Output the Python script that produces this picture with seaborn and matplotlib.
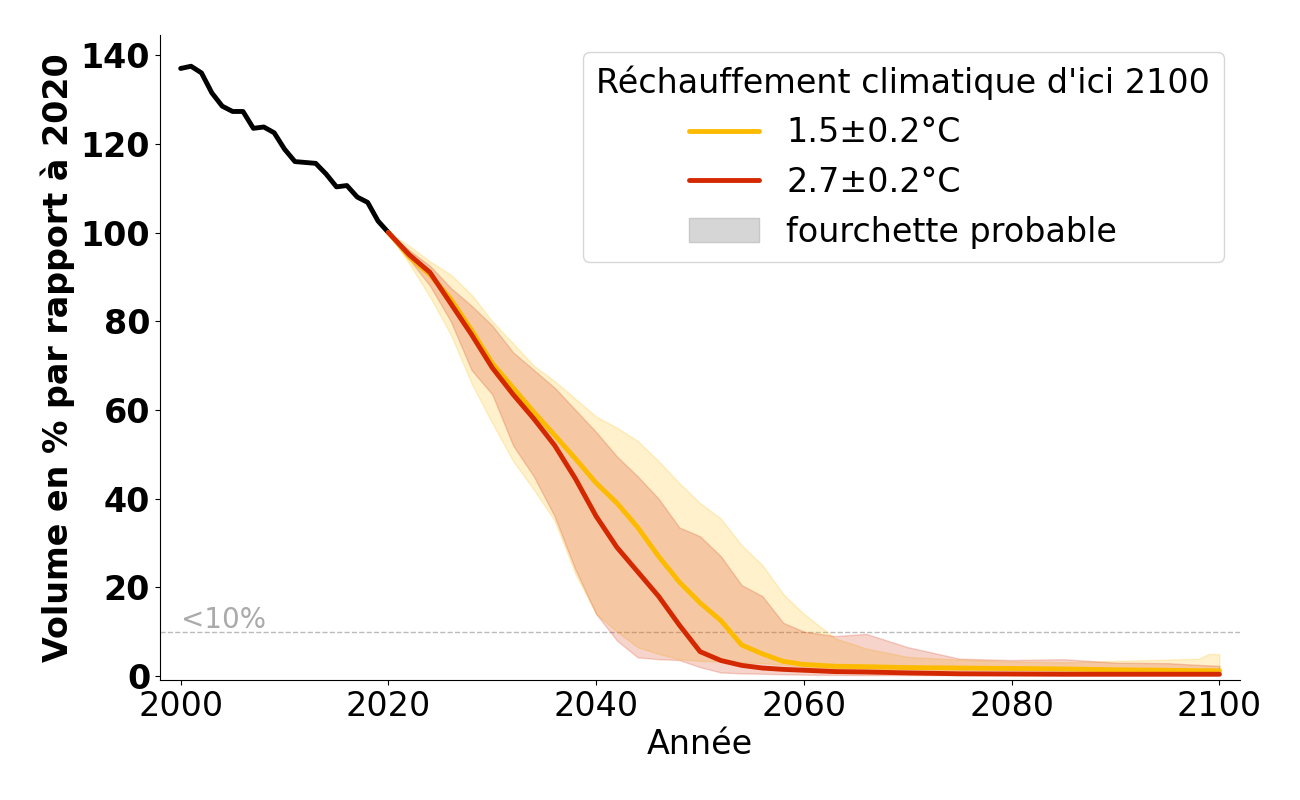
import matplotlib
matplotlib.use("Agg")
import matplotlib.pyplot as plt
import matplotlib.patches as mpatches
from matplotlib.lines import Line2D
import numpy as np
import pandas as pd
import seaborn as sns

# historique
annees_hist = list(range(2000, 2021))
volume_hist = [137, 137.5, 136, 131.5, 128.5, 127.3, 127.3, 123.5, 123.8, 122.5,
               118.8, 116, 115.8, 115.6, 113.2, 110.3, 110.6, 108, 106.8, 102.6, 100]

# projections
annees = [2020, 2022, 2024, 2026, 2028, 2030, 2032, 2034, 2036, 2038, 2040,
          2042, 2044, 2046, 2048, 2050, 2052, 2054, 2056, 2058, 2060,
          2063, 2066, 2070, 2075, 2080, 2085, 2090, 2095, 2098, 2099, 2100]

med_15 = [100, 94.5, 90.5, 85, 78, 70.5, 65, 59.5, 54.3, 49, 43.5,
          39, 33.5, 27, 21.2, 16.5, 12.5, 7, 5, 3.3, 2.6,
          2.2, 2.1, 1.9, 1.8, 1.7, 1.6, 1.4, 1.3, 1.2, 1.2, 1.2]
haut_15 = [100, 97, 93.5, 90.5, 86, 80, 75, 70, 66.5, 62.5, 58.5,
           56, 53, 48.5, 43.5, 39, 35.5, 29.5, 25, 18.5, 14,
           8.5, 6.2, 4.3, 3.7, 3.3, 3.1, 3.4, 3.7, 3.9, 5.0, 4.9]
bas_15 = [100, 93, 85.5, 77, 66, 57, 48.5, 42, 35, 23, 14,
          10, 6.5, 5, 3.8, 3.4, 3.3, 3.1, 2.9, 2.5, 2.0,
          1.7, 1.6, 1.5, 1.4, 1.3, 1.2, 1.1, 1.0, 1.0, 1.0, 1.0]

med_27 = [100, 95, 91, 84, 77, 69.5, 63.5, 58, 52, 44.5, 36,
          29, 23.5, 18, 11.5, 5.5, 3.5, 2.4, 1.8, 1.5, 1.3,
          1.0, 0.9, 0.7, 0.5, 0.45, 0.4, 0.4, 0.4, 0.4, 0.4, 0.4]
haut_27 = [100, 96, 92.5, 87.5, 83.5, 79, 73, 69, 65, 60, 55,
           49.5, 45, 40, 33.5, 31.5, 27, 20.5, 18, 12, 10,
           9, 9.5, 6.5, 3.9, 3.6, 3.8, 3.0, 2.9, 2.5, 2.4, 2.3]
bas_27 = [100, 94, 88, 80, 69, 63.5, 52, 45, 36, 24, 14,
          8, 4.2, 3.8, 3.6, 2, 0.8, 0.6, 0.5, 0.4, 0.3,
          0.25, 0.2, 0.2, 0.2, 0.2, 0.2, 0.2, 0.2, 0.2, 0.2, 0.2]

jaune = '#FDBB00'
rouge = '#D42800'

sns.set_style("ticks")
plt.rcParams['font.family'] = ['DejaVu Sans']
plt.rcParams['text.color'] = 'black'
plt.rcParams['axes.labelcolor'] = 'black'
plt.rcParams['xtick.color'] = 'black'
plt.rcParams['ytick.color'] = 'black'
plt.rcParams['axes.edgecolor'] = 'black'

df_hist = pd.DataFrame({'annee': annees_hist, 'volume': volume_hist})
df_15 = pd.DataFrame({'annee': annees, 'volume': med_15})
df_27 = pd.DataFrame({'annee': annees, 'volume': med_27})

fig, ax = plt.subplots(figsize=(13, 8), dpi=100)
fig.subplots_adjust(left=0.123, right=0.954, bottom=0.15, top=0.956)

ax.fill_between(annees, bas_15, haut_15, color=jaune, alpha=0.2, lw=1)
ax.fill_between(annees, bas_27, haut_27, color=rouge, alpha=0.2, lw=1)

sns.lineplot(data=df_hist, x='annee', y='volume', color='black', lw=3.5, ax=ax)
sns.lineplot(data=df_15, x='annee', y='volume', color=jaune, lw=3.5, ax=ax)
sns.lineplot(data=df_27, x='annee', y='volume', color=rouge, lw=3.5, ax=ax)

ax.axhline(10, color='#bbbbbb', ls='--', lw=1, zorder=0)
ax.text(2000, 10.8, '<10%', color='#aaaaaa', fontsize=20)

ax.set_xlim(1998, 2102)
ax.set_ylim(-0.9, 144.5)
ax.set_xticks([2000, 2020, 2040, 2060, 2080, 2100])
ax.set_yticks([0, 20, 40, 60, 80, 100, 120, 140])
ax.tick_params(axis='x', labelsize=24)
ax.tick_params(axis='y', labelsize=24)
for lab in ax.get_yticklabels():
    lab.set_fontweight('bold')
ax.set_xlabel('Année', fontsize=24)
ax.set_ylabel('Volume en % par rapport à 2020', fontsize=24, fontweight='bold')
sns.despine(ax=ax)

handles = [Line2D([], [], color=jaune, lw=3.5),
           Line2D([], [], color=rouge, lw=3.5),
           mpatches.Patch(facecolor='#d6d6d6', edgecolor='#c8c8c8')]
ax.legend(handles, ['1.5±0.2°C', '2.7±0.2°C', 'fourchette probable'],
          title="Réchauffement climatique d'ici 2100", fontsize=24,
          title_fontsize=24, loc='upper right', handlelength=2.1)

fig.savefig('out.png', dpi=100)
